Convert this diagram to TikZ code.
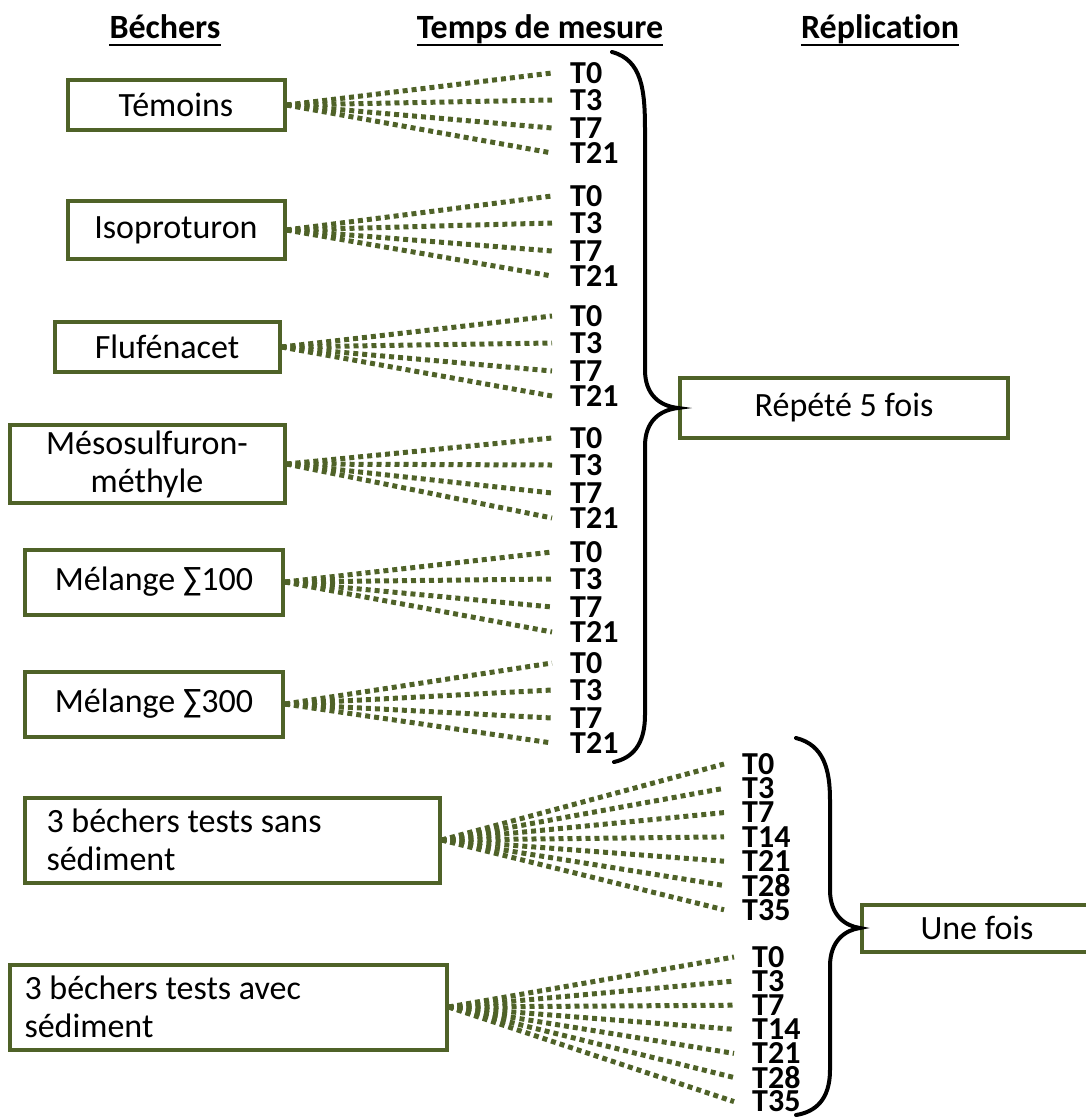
\documentclass[tikz,border=0pt]{standalone}
\usepackage{fontspec}
\setmainfont{Carlito}[Ligatures=NoCommon]
\usetikzlibrary{positioning}
\definecolor{bechergreen}{HTML}{4F6228}

\begin{document}
\begin{tikzpicture}[x=1pt, y=-1pt,
    bowl/.style={draw=bechergreen, line width=4pt, font=\fontsize{34}{38}\selectfont, align=center, inner sep=0pt},
    head/.style={font=\bfseries\fontsize{34}{40}\selectfont, inner sep=0pt, anchor=base},
    tlab/.style={font=\bfseries\fontsize{32}{36}\selectfont, anchor=west, inner xsep=18pt, inner ysep=0pt},
    fan/.style={draw=bechergreen, line width=5pt, dash pattern=on 5pt off 4pt},
    brace/.style={draw=black, line width=4pt, line cap=round}
  ]
  \useasboundingbox (0,0) rectangle (1085,1117);

  % column titles
  \node[head] (hbech) at (165,38) {Béchers};
  \node[head] (hmes) at (540,38) {Temps de mesure};
  \node[head] (hrep) at (880,38) {Réplication};
  \foreach \h in {hbech,hmes,hrep}
    \draw[line width=2.5pt] ([yshift=-7pt]\h.base west) -- ([yshift=-7pt]\h.base east);

  % beakers
  \node[bowl, minimum width=217pt, minimum height=50pt] (temoins) at (176,105) {Témoins};
  \node[bowl, minimum width=217pt, minimum height=58pt] (isopro) at (176,230) {Isoproturon};
  \node[bowl, minimum width=225pt, minimum height=50pt] (fluf) at (167,347) {Flufénacet};
  \node[bowl, minimum width=275pt, minimum height=78pt] (meso) at (147,464) {Mésosulfuron-\\méthyle};
  \node[bowl, minimum width=258pt, minimum height=65pt] (melA) at (154,582) {Mélange ∑100};
  \node[bowl, minimum width=258pt, minimum height=65pt] (melB) at (154,704) {Mélange ∑300};
  \node[bowl, inner xsep=22pt, minimum height=85pt] (sans) at (232,840)
    {\parbox{371pt}{3 béchers tests sans\\sédiment}};
  \node[bowl, inner xsep=15pt, minimum height=85pt] (avec) at (228,1007)
    {\parbox{407pt}{3 béchers tests avec\\sédiment}};

  % replication
  \node[bowl, minimum width=328pt, minimum height=60pt] (rep) at (844,408) {Répété 5 fois};
  \node[bowl, minimum width=230pt, minimum height=47pt] (une) at (977,928) {Une fois};

  % measuring times
  \foreach \src/\y in {temoins/73, isopro/196, fluf/316, meso/438, melA/552, melB/663}
    \foreach \t/\dy in {T0/0, T3/27, T7/55, T21/80} {
      \node[tlab] (\src\t) at (552,\y+\dy) {\t};
      \draw[fan] (\src.east) -- (\src\t.west);
    }
  \foreach \t [count=\k from 0] in {T0,T3,T7,T14,T21,T28,T35} {
    \node[tlab] (sans\t) at (724,764+24.3*\k) {\t};
    \draw[fan] (sans.east) -- (sans\t.west);
  }
  \foreach \t [count=\k from 0] in {T0,T3,T7,T14,T21,T28,T35} {
    \node[tlab] (avec\t) at (734,957+24.1*\k) {\t};
    \draw[fan] (avec.east) -- (avec\t.west);
  }

  % braces
  \draw[brace] (612,52) .. controls (642,60) and (645,90) .. (645,130) -- (645,370)
    .. controls (645,395) and (660,406) .. (rep.west)
    .. controls (660,410) and (645,421) .. (645,446) -- (645,715)
    .. controls (645,745) and (632,758) .. (614,762);
  \draw[brace] (796,738) .. controls (824,745) and (830,770) .. (830,800) -- (830,890)
    .. controls (830,915) and (845,926) .. (une.west)
    .. controls (845,930) and (830,941) .. (830,966) -- (830,1070)
    .. controls (830,1100) and (815,1112) .. (796,1115);
\end{tikzpicture}
\end{document}
